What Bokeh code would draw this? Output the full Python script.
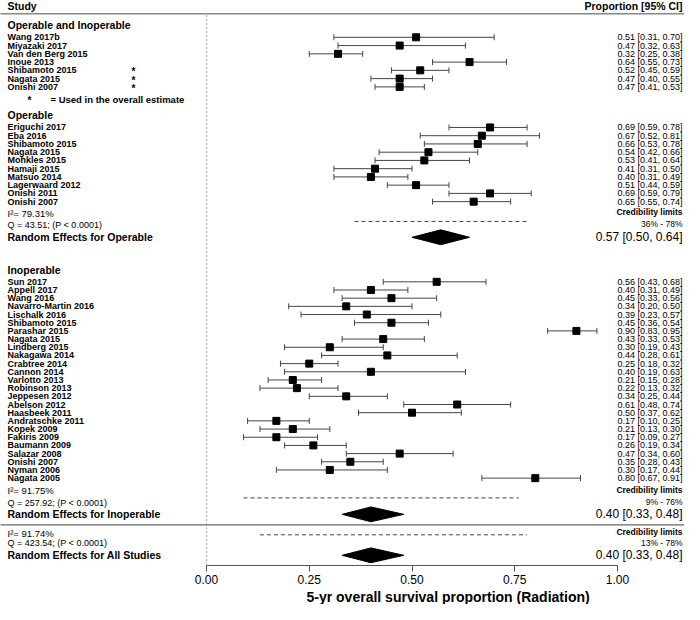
from bokeh.plotting import figure
from bokeh.models import (Range1d, ColumnDataSource, Whisker, TeeHead, FixedTicker,
                          NumeralTickFormatter, Title)
from bokeh.core.properties import value
from bokeh.embed import file_html
from bokeh.resources import INLINE

# ---------------- data ----------------
names1 = ["Wang 2017b", "Miyazaki 2017", "Van den Berg 2015", "Inoue 2013",
          "Shibamoto 2015", "Nagata 2015", "Onishi 2007"]
est1 = [0.51, 0.47, 0.32, 0.64, 0.52, 0.47, 0.47]
lo1 = [0.31, 0.32, 0.25, 0.55, 0.45, 0.40, 0.41]
hi1 = [0.70, 0.63, 0.38, 0.73, 0.59, 0.55, 0.53]
star1 = [False, False, False, False, True, True, True]

names2 = ["Eriguchi 2017", "Eba 2016", "Shibamoto 2015", "Nagata 2015", "Mohkles 2015",
          "Hamaji 2015", "Matsuo 2014", "Lagerwaard 2012", "Onishi 2011", "Onishi 2007"]
est2 = [0.69, 0.67, 0.66, 0.54, 0.53, 0.41, 0.40, 0.51, 0.69, 0.65]
lo2 = [0.59, 0.52, 0.53, 0.42, 0.41, 0.31, 0.31, 0.44, 0.59, 0.55]
hi2 = [0.78, 0.81, 0.78, 0.66, 0.64, 0.50, 0.49, 0.59, 0.79, 0.74]

names3 = ["Sun 2017", "Appell 2017", "Wang 2016", "Navarro-Martin 2016", "Lischalk 2016",
          "Shibamoto 2015", "Parashar 2015", "Nagata 2015", "Lindberg 2015", "Nakagawa 2014",
          "Crabtree 2014", "Cannon 2014", "Varlotto 2013", "Robinson 2013", "Jeppesen 2012",
          "Abelson 2012", "Haasbeek 2011", "Andratschke 2011", "Kopek 2009", "Fakiris 2009",
          "Baumann 2009", "Salazar 2008", "Onishi 2007", "Nyman 2006", "Nagata 2005"]
est3 = [0.56, 0.40, 0.45, 0.34, 0.39, 0.45, 0.90, 0.43, 0.30, 0.44, 0.25, 0.40, 0.21,
        0.22, 0.34, 0.61, 0.50, 0.17, 0.21, 0.17, 0.26, 0.47, 0.35, 0.30, 0.80]
lo3 = [0.43, 0.31, 0.33, 0.20, 0.23, 0.36, 0.83, 0.33, 0.19, 0.28, 0.18, 0.19, 0.15,
       0.13, 0.25, 0.48, 0.37, 0.10, 0.13, 0.09, 0.19, 0.34, 0.28, 0.17, 0.67]
hi3 = [0.68, 0.49, 0.56, 0.50, 0.57, 0.54, 0.95, 0.53, 0.43, 0.61, 0.32, 0.63, 0.28,
       0.32, 0.44, 0.74, 0.62, 0.25, 0.30, 0.27, 0.34, 0.60, 0.43, 0.44, 0.91]

summary_labels = ["Random Effects for Operable", "Random Effects for Inoperable",
                  "Random Effects for All Studies"]
summary_est = [0.57, 0.40, 0.40]
summary_lo = [0.50, 0.33, 0.33]
summary_hi = [0.64, 0.48, 0.48]
summary_i2 = [79.31, 91.75, 91.74]
summary_q = [43.51, 257.92, 423.54]
cred_lo = [0.36, 0.09, 0.13]
cred_hi = [0.78, 0.76, 0.78]

group_titles = ["Operable and Inoperable", "Operable", "Inoperable"]
tick_values = [0.0, 0.25, 0.50, 0.75, 1.0]
tick_labels = ["0.00", "0.25", "0.50", "0.75", "1.00"]
x_title = "5-yr overall survival proportion (Radiation)"

# ---------------- layout ----------------
X0_PX, X_SCALE = 206.0, 411.0


def px2x(px):
    return (px - X0_PX) / X_SCALE


W, H = 684, 604
BOTTOM = 33
Y_BOTTOM = H - BOTTOM          # frame bottom in layout units (1 unit ~ 1px)
XL, XR = px2x(0), px2x(W)
LEFT_TXT = px2x(7)
RIGHT_TXT = px2x(W - 2)
STAR_X = px2x(133)
FONT = value("Liberation Sans")

p = figure(width=W, height=H, output_backend="svg", toolbar_location=None,
           x_range=Range1d(XL, XR), y_range=Range1d(Y_BOTTOM, 0),
           min_border_left=0, min_border_right=0, min_border_top=0, min_border_bottom=BOTTOM,
           y_axis_location=None)
p.grid.visible = False
p.outline_line_color = None


def add_text(xs, ys, texts, size, style="normal", align="left", color="black"):
    src = ColumnDataSource(dict(x=list(xs), y=list(ys), t=list(texts)))
    p.text(x="x", y="y", text="t", source=src, text_font=FONT,
           text_font_size=value(size), text_font_style=style, text_align=align,
           text_baseline="middle", text_color=color)


def fmt_ci(e, l, h):
    return f"{e:.2f} [{l:.2f}, {h:.2f}]"


def draw_studies(names, est, lo, hi, y_start, step):
    ys = [y_start + i * step for i in range(len(names))]
    src = ColumnDataSource(dict(y=ys, est=est, lo=lo, hi=hi))
    wh = Whisker(source=src, base="y", lower="lo", upper="hi", dimension="width",
                 line_color="#444444", line_width=1, level="underlay",
                 lower_head=TeeHead(size=6, line_color="#444444", line_width=1),
                 upper_head=TeeHead(size=6, line_color="#444444", line_width=1))
    p.add_layout(wh)
    p.scatter(x="est", y="y", source=src, marker="square", size=7,
              fill_color="black", line_color="black")
    add_text([LEFT_TXT] * len(names), ys, names, "9px", "bold")
    add_text([RIGHT_TXT] * len(names), ys,
             [fmt_ci(e, l, h) for e, l, h in zip(est, lo, hi)], "9px", "normal", "right")
    return ys


# header
add_text([LEFT_TXT], [5.5], ["Study"], "10.5px", "bold")
add_text([RIGHT_TXT], [5.5], ["Proportion [95% CI]"], "10.5px", "bold", "right")
p.segment(x0=[XL - 1], x1=[XR + 1], y0=[13.5], y1=[13.5], line_color="#888888", line_width=1.5)

# reference dotted line at 0
p.segment(x0=[tick_values[0]], x1=[tick_values[0]], y0=[15], y1=[Y_BOTTOM],
          line_color="#aaaaaa", line_width=1.2, line_dash="2 2")

# group 1
add_text([LEFT_TXT], [25], [group_titles[0]], "10.5px", "bold")
ys1 = draw_studies(names1, est1, lo1, hi1, 37.2, 8.35)
sy = [y for y, s in zip(ys1, star1) if s]
add_text([STAR_X] * len(sy), [y + 1.5 for y in sy], ["*"] * len(sy), "10px", "bold", "center")
add_text([px2x(29)], [101.5], ["*"], "10px", "bold", "center")
add_text([px2x(50)], [100], ["= Used in the overall estimate"], "9.5px", "bold")

# group 2
add_text([LEFT_TXT], [115.7], [group_titles[1]], "10.5px", "bold")
draw_studies(names2, est2, lo2, hi2, 128.3, 8.33)

# group 3
add_text([LEFT_TXT], [272.3], [group_titles[2]], "10.5px", "bold")
draw_studies(names3, est3, lo3, hi3, 284.3, 8.267)

# separator before overall
p.segment(x0=[XL - 1], x1=[XR + 1], y0=[530], y1=[530], line_color="#666666", line_width=1.2)

# summaries
i2_y = [215.7, 495.7, 539.0]
q_y = [226.7, 507.7, 548.3]
re_y = [239.3, 519.3, 560.7]
cred_y = [223.3, 502.7, 540.0]
DH = 7.5

add_text([LEFT_TXT] * 3, i2_y, [f"I\u00b2= {v:.2f}%" for v in summary_i2], "9.5px")
add_text([LEFT_TXT] * 3, q_y, [f"Q = {v:.2f}; (P < 0.0001)" for v in summary_q], "9px")
add_text([LEFT_TXT] * 3, re_y, summary_labels, "10.5px", "bold")
add_text([RIGHT_TXT] * 3, [y - 1.5 for y in i2_y], ["Credibility limits"] * 3, "8.5px", "bold", "right")
add_text([RIGHT_TXT] * 3, [y - 0.5 for y in q_y],
         [f"{round(a*100)}% - {round(b*100)}%" for a, b in zip(cred_lo, cred_hi)],
         "8.5px", "normal", "right")
add_text([RIGHT_TXT] * 3, re_y,
         [fmt_ci(e, l, h) for e, l, h in zip(summary_est, summary_lo, summary_hi)],
         "12px", "normal", "right")

p.segment(x0=cred_lo, x1=cred_hi, y0=cred_y, y1=cred_y, line_color="#444444",
          line_width=1, line_dash="4 3")

p.patches(xs=[[l, e, h, e] for e, l, h in zip(summary_est, summary_lo, summary_hi)],
          ys=[[y, y - DH, y, y + DH] for y in re_y],
          fill_color="black", line_color="black")

# axis
ax = p.xaxis[0]
ax.ticker = FixedTicker(ticks=tick_values)
ax.formatter = NumeralTickFormatter(format="0.00")
ax.bounds = (tick_values[0], tick_values[-1])
ax.major_tick_in = 0
ax.major_tick_out = 6
ax.minor_tick_line_color = None
ax.axis_line_color = "#555555"
ax.major_tick_line_color = "#555555"
ax.major_label_text_font = "Liberation Sans"
ax.major_label_text_font_size = "12px"
ax.major_label_text_color = "black"
ax.major_label_standoff = 3

# axis title, placed under the middle of the tick span
p.add_layout(Title(text=x_title, align="left", offset=X0_PX + 100, standoff=0,
                   text_font="Liberation Sans", text_font_size="14px",
                   text_font_style="bold", text_color="black"), "below")

open("out.html", "w").write(file_html(p, INLINE))
